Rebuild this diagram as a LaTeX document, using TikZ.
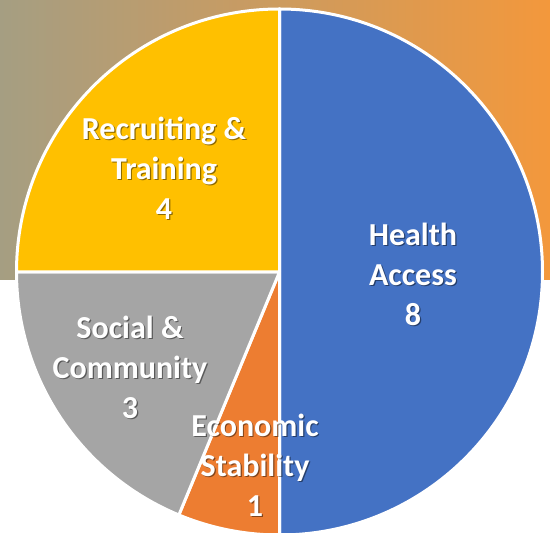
\documentclass[tikz,border=0pt]{standalone}
\usepackage{fontspec}
\setmainfont{Carlito}
\definecolor{bgleft}{HTML}{A59E82}
\definecolor{bgright}{HTML}{F3983C}
\definecolor{pieblue}{HTML}{4472C4}
\definecolor{pieorange}{HTML}{ED7D31}
\definecolor{piegray}{HTML}{A5A5A5}
\definecolor{pieyellow}{HTML}{FFC000}
\newcommand\shtxt[1]{\leavevmode\rlap{\kern1.2pt\raisebox{-1.2pt}{\pgfsetfillopacity{0.45}\textcolor{black}{#1}\pgfsetfillopacity{1}}}#1}
\tikzset{
  wedge/.style={draw=white, line width=3pt, line join=round},
  lbl/.style={text=white, font=\fontsize{32}{40}\selectfont\bfseries, align=center, inner sep=0pt, anchor=base},
}
\begin{document}
\begin{tikzpicture}[x=1pt,y=1pt]
\useasboundingbox (0,0) rectangle (550,533);
\clip (0,0) rectangle (550,533);
\shade[left color=bgleft, right color=bgright] (0,253) rectangle (550,533);
\coordinate (c) at (279.5,261);
\filldraw[wedge, fill=pieblue] (c) -- ++(90:263pt) arc[start angle=90, end angle=-90, radius=263pt] -- cycle;
\filldraw[wedge, fill=pieorange] (c) -- ++(-90:263pt) arc[start angle=-90, end angle=-112.5, radius=263pt] -- cycle;
\filldraw[wedge, fill=piegray] (c) -- ++(-112.5:263pt) arc[start angle=-112.5, end angle=-180, radius=263pt] -- cycle;
\filldraw[wedge, fill=pieyellow] (c) -- ++(180:263pt) arc[start angle=180, end angle=90, radius=263pt] -- cycle;
\node[lbl] (rt) at (164,313.4) {\shtxt{Recruiting \&}\\\shtxt{Training}\\\shtxt{4}};
\node[lbl] (ha) at (413,207.4) {\shtxt{Health}\\\shtxt{Access}\\\shtxt{8}};
\node[lbl] (sc) at (130,114.4) {\shtxt{Social \&}\\\shtxt{Community}\\\shtxt{3}};
\node[lbl] (es) at (255,16.2) {\shtxt{Economic}\\\shtxt{Stability}\\\shtxt{1}};
\end{tikzpicture}
\end{document}
